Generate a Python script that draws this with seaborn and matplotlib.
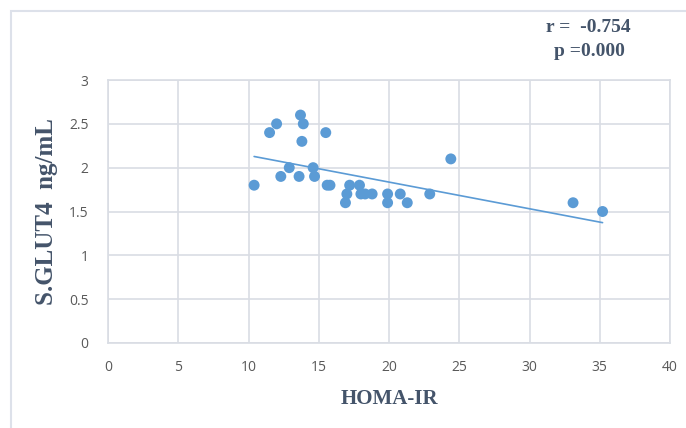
import matplotlib
matplotlib.use("Agg")
import matplotlib.pyplot as plt
import seaborn as sns
import pandas as pd
from matplotlib.patches import Rectangle

homa_ir = [10.4, 11.5, 12.0, 12.3, 12.9, 13.6, 13.7, 13.9, 13.8, 14.6, 14.7, 15.5,
           15.6, 15.8, 17.2, 17.0, 16.9, 17.9, 18.0, 18.3, 18.8, 19.9, 19.9, 20.8,
           21.3, 22.9, 24.4, 33.1, 35.2]
glut4 = [1.8, 2.4, 2.5, 1.9, 2.0, 1.9, 2.6, 2.5, 2.3, 2.0, 1.9, 2.4,
         1.8, 1.8, 1.8, 1.7, 1.6, 1.8, 1.7, 1.7, 1.7, 1.7, 1.6, 1.7,
         1.6, 1.7, 2.1, 1.6, 1.5]
x_ticks = [0, 5, 10, 15, 20, 25, 30, 35, 40]
y_ticks = [0, 0.5, 1, 1.5, 2, 2.5, 3]
y_tick_labels = ["0", "0.5", "1", "1.5", "2", "2.5", "3"]
annot_r = "r =  -0.754"
annot_p = "p =0.000"

df = pd.DataFrame({"HOMA-IR": homa_ir, "S.GLUT4": glut4})

sns.set_style("white")
plt.rcParams["font.family"] = ["Open Sans", "DejaVu Sans"]

fig = plt.figure(figsize=(6.86, 4.28), dpi=100)
ax = fig.add_axes([108 / 686, 1 - 343 / 428, (670 - 108) / 686, (343 - 80) / 428])

blue = "#5B9BD5"
sns.regplot(data=df, x="HOMA-IR", y="S.GLUT4", ax=ax, ci=None, truncate=True,
            scatter_kws=dict(s=62, color=blue, edgecolor="none", alpha=1, zorder=3),
            line_kws=dict(color=blue, lw=1.2, zorder=2))

ax.set_xlim(0, 40)
ax.set_ylim(0, 3)
ax.set_xticks(x_ticks)
ax.set_yticks(y_ticks)
ax.set_yticklabels(y_tick_labels)
ax.grid(True, color="#D9DDE4", lw=1.2, zorder=0)
ax.set_axisbelow(True)
for s in ax.spines.values():
    s.set_color("#D9DDE4")
    s.set_linewidth(1.2)
ax.tick_params(axis="both", length=0, labelsize=10, colors="#595959", pad=12)
ax.tick_params(axis="y", pad=14)

lab_color = "#44546A"
serif = ["Liberation Serif", "DejaVu Serif"]
ax.set_xlabel("HOMA-IR", fontsize=15, fontweight="bold", color=lab_color,
              family=serif, labelpad=10)
ax.set_ylabel("S.GLUT4  ng/mL", fontsize=18, fontweight="bold", color=lab_color,
              family=serif, labelpad=8)

fig.text(588 / 686, 1 - 28 / 428, annot_r, ha="center", va="center", fontsize=14,
         fontweight="bold", color=lab_color, family=serif)
fig.text(589 / 686, 1 - 52 / 428, annot_p, ha="center", va="center", fontsize=14,
         fontweight="bold", color=lab_color, family=serif)

fig.patches.append(Rectangle((11 / 686, -0.1), 1.2, 1 - 11 / 428 + 0.1,
                             transform=fig.transFigure, fill=False,
                             edgecolor="#DDE1EA", lw=1.5))

fig.savefig("out.png", dpi=100)
